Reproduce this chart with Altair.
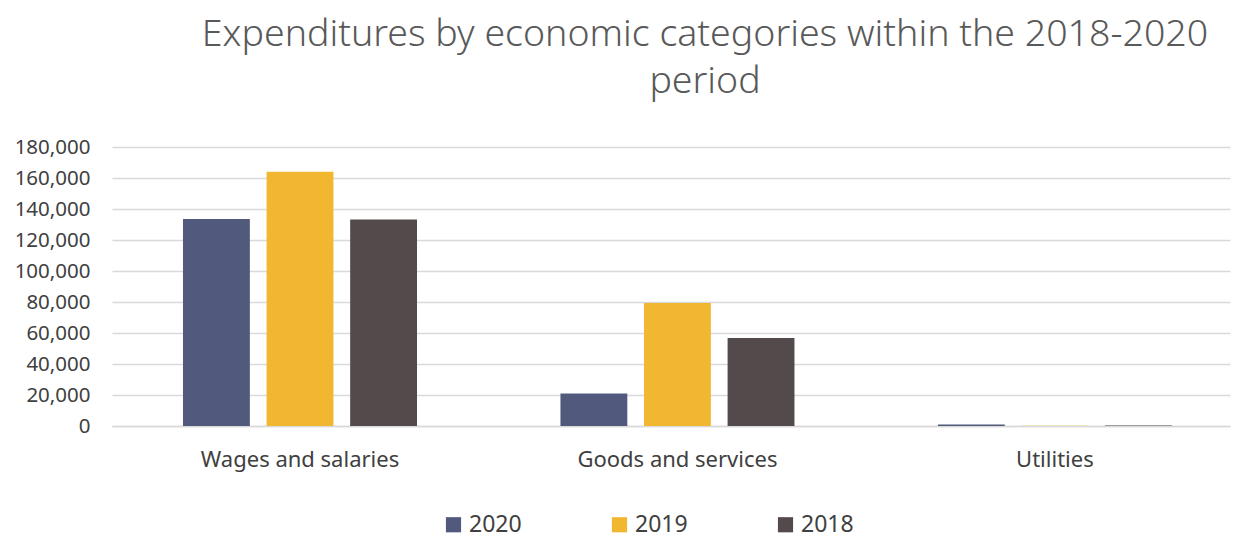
import altair as alt
import pandas as pd

categories = ["Wages and salaries", "Goods and services", "Utilities"]
years = ["2020", "2019", "2018"]
values_2020 = [133500, 21000, 1000]
values_2019 = [164000, 79400, 100]
values_2018 = [133300, 56800, 300]
colors = ["#515a7d", "#f2b731", "#534a4b"]

rows = []
for i, c in enumerate(categories):
    for y, vals in zip(years, [values_2020, values_2019, values_2018]):
        rows.append({"category": c, "year": y, "value": vals[i]})
df = pd.DataFrame(rows)

chart = alt.Chart(df).mark_bar().encode(
    x=alt.X("category:N", sort=categories,
            scale=alt.Scale(paddingInner=0.38, paddingOuter=0.171, align=0.55),
            axis=alt.Axis(title=None, labelAngle=0, ticks=False, domain=True,
                          domainColor="#d9d9d9", domainWidth=1.5, labelLimit=500,
                          labelFontSize=22, labelColor="#404040", labelPadding=23,
                          labelFont="Noto Sans")),
    xOffset=alt.XOffset("year:N", sort=years, scale=alt.Scale(paddingInner=0.2, paddingOuter=0)),
    y=alt.Y("value:Q", scale=alt.Scale(domain=[0, 180000], nice=False),
            axis=alt.Axis(title=None, values=list(range(0, 180001, 20000)), format=",.0f",
                          ticks=False, domain=False, gridColor="#d9d9d9", gridWidth=1.5,
                          labelFontSize=20.5, labelColor="#404040", labelPadding=22,
                          labelFont="Noto Sans")),
    color=alt.Color("year:N", sort=years,
                    scale=alt.Scale(domain=years, range=colors),
                    legend=alt.Legend(title=None, orient="none", direction="horizontal",
                                      legendX=330, legendY=366, symbolType="square",
                                      symbolSize=230, symbolStrokeWidth=0,
                                      labelFontSize=23, labelColor="#404040",
                                      labelFont="Noto Sans", columnPadding=86,
                                      labelOffset=4)),
).properties(
    width=1118, height=279,
    title=alt.TitleParams(
        text=["Expenditures by economic categories within the 2018-2020", "period"],
        fontSize=37.5, font="Noto Sans", fontWeight=300, color="#595959",
        anchor="middle", dx=34, offset=37, lineHeight=47,
    ),
    autosize=alt.AutoSizeParams(type="none"),
    padding={"left": 112, "top": 147, "right": 12, "bottom": 113},
).configure_view(stroke=None)

chart.save("out.html", embed_options={"renderer": "svg", "actions": False})
